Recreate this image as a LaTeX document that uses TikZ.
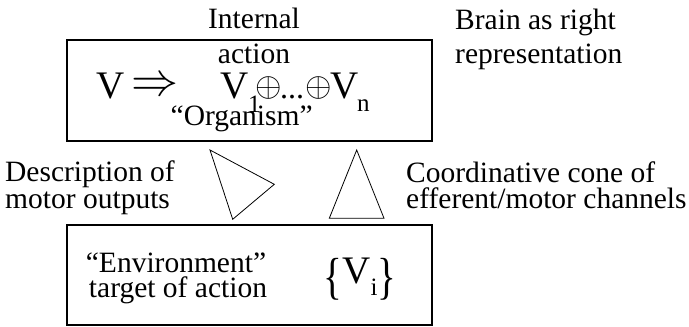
\documentclass[tikz,border=0pt]{standalone}
\usepackage{fix-cm}
\usepackage{graphicx}
\usepackage{fontspec}
\setmainfont{Liberation Serif}
\newcommand{\tallbrace}[1]{\raisebox{-10pt}{\scalebox{1}[1.3]{#1}}}
\begin{document}
\begin{tikzpicture}[x=1pt,y=-1pt,
  txt/.style={inner sep=0pt,font=\fontsize{29.5}{27}\selectfont},
  big/.style={inner sep=0pt,font=\fontsize{39}{40}\selectfont},
  sub/.style={inner sep=0pt,font=\fontsize{25}{25}\selectfont},
  sym/.style={inner sep=0pt,anchor=center},
  box/.style={draw,line width=2pt,inner sep=0pt},
  tri/.style={draw,line width=0.8pt}]
\useasboundingbox (0,0) rectangle (689,327);
% boxes
\node[box,minimum width=365pt,minimum height=101pt] (org) at (249.5,90.5) {};
\node[box,minimum width=365pt,minimum height=100pt] (env) at (249.5,275) {};
% top texts
\node[txt,anchor=base] (int1) at (254,28.3) {Internal};
\node[txt,anchor=base] (int2) at (254,63.3) {action};
\node[txt,anchor=base west] (br1) at (455,29) {Brain as right};
\node[txt,anchor=base west] (br2) at (455,63) {representation};
% equation
\node[big,anchor=base west] (v0) at (96,98) {V};
\node[sym,font=\fontsize{47}{47}\selectfont] (imp) at (155,86.5) {$\Rightarrow$};
\node[big,anchor=base west] (v1) at (220,98) {V};
\node[sub,anchor=base west] (s1) at (248,112.5) {1};
\node[sym,font=\fontsize{34}{34}\selectfont] (p1) at (268.5,88) {$\oplus$};
\node[inner sep=0pt,anchor=base,font=\fontsize{32}{32}\selectfont] (dots) at (292,98) {...};
\node[sym,font=\fontsize{34}{34}\selectfont] (p2) at (318.5,88) {$\oplus$};
\node[big,anchor=base west] (vn) at (330,98) {V};
\node[sub,anchor=base west] (sn) at (357,111.5) {n};
\node[txt,anchor=base] (orgt) at (241.7,125) {“Organism”};
% side texts
\node[txt,anchor=base west] (d1) at (5,181.7) {Description of};
\node[txt,anchor=base west] (d2) at (5,208.3) {motor outputs};
\node[txt,anchor=base west] (c1) at (406,182) {Coordinative cone of};
\node[txt,anchor=base west] (c2) at (406,208.3) {efferent/motor channels};
% bottom texts
\node[txt,anchor=base] (e1) at (176,272) {“Environment”};
\node[txt,anchor=base] (e2) at (178,297) {target of action};
\node[big,anchor=base] (vi) at (360,283) {\tallbrace{\{}V\raisebox{-12pt}{\fontsize{25}{25}\selectfont i}\tallbrace{\}}};
% triangles
\coordinate (la) at (210,150);
\coordinate (lb) at (274.3,184.3);
\coordinate (lc) at (232.7,219.3);
\coordinate (ra) at (356.7,150);
\coordinate (rb) at (329.3,218.3);
\coordinate (rc) at (384,218.3);
\draw[tri] (la) -- (lb) -- (lc) -- cycle;
\draw[tri] (ra) -- (rb) -- (rc) -- cycle;
\end{tikzpicture}
\end{document}
